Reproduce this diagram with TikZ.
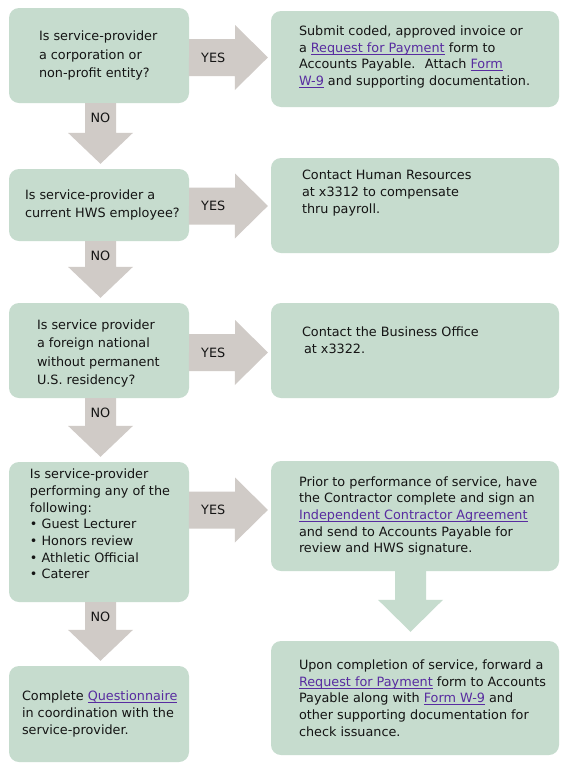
\documentclass[tikz,border=0pt]{standalone}
\usepackage{fontspec}
\setmainfont{DejaVu Sans}
\usepackage{tikz}
\usetikzlibrary{calc,positioning}
\definecolor{boxgreen}{RGB}{198,220,206}
\definecolor{arrowgrey}{RGB}{208,203,199}
\definecolor{linkpurple}{RGB}{88,44,160}
\definecolor{textblack}{RGB}{20,20,20}
\newcommand{\lnk}[1]{{\color{linkpurple}\setbox0\hbox{#1}\rlap{\rule[-2.2pt]{\wd0}{0.7pt}}\box0}}

\begin{document}
\begin{tikzpicture}[x=1pt,y=1pt,
  box/.style={fill=boxgreen,rounded corners=10pt,inner sep=0pt,draw=none},
  txt/.style={anchor=west,inner sep=0pt,align=left,text=textblack,font=\fontsize{12.8}{16.7}\selectfont},
  wide/.style={font=\fontsize{12.8}{18.3}\selectfont},
  greyarrow/.style={fill=arrowgrey},
  lbl/.style={inner sep=0pt,text=textblack,font=\fontsize{12.8}{15}\selectfont}]
\useasboundingbox (0,0) rectangle (574,-772);
\fill[white] (0,0) rectangle (574,-772);

% questions
\node (q1) at (99,-55.5) [box,minimum width=180,minimum height=95] {};
\node (q2) at (99,-205) [box,minimum width=180,minimum height=72] {};
\node (q3) at (99,-350.5) [box,minimum width=180,minimum height=95] {};
\node (q4) at (99,-532) [box,minimum width=180,minimum height=140] {};
\node (q5) at (99,-714) [box,minimum width=180,minimum height=96] {};

% answers
\node (a1) at (415,-59) [box,minimum width=288,minimum height=96] {};
\node (a2) at (415,-205.5) [box,minimum width=288,minimum height=95] {};
\node (a3) at (415,-350.5) [box,minimum width=288,minimum height=95] {};
\node (a4) at (415,-516) [box,minimum width=288,minimum height=110] {};
\node (a5) at (415,-698) [box,minimum width=288,minimum height=114] {};

\node (q1t) at ([xshift=30pt]q1.west) [txt,wide] {Is service-provider\\a corporation or\\non-profit entity?};
\node (q2t) at ([xshift=16pt]q2.west) [txt,wide] {Is service-provider a\\current HWS employee?};
\node (q3t) at ([xshift=28pt,yshift=-3pt]q3.west) [txt,wide] {Is service provider\\a foreign national\\without permanent\\U.S. residency?};
\node (q4t) at ([xshift=21pt,yshift=8pt]q4.west) [txt] {Is service-provider\\performing any of the\\following:\\• Guest Lecturer\\• Honors review\\• Athletic Official\\• Caterer};
\node (q5t) at ([xshift=13pt]q5.west) [txt] {Complete \lnk{Questionnaire}\\in coordination with the\\service-provider.};

\node (a1t) at ([xshift=28pt,yshift=2pt]a1.west) [txt] {Submit coded, approved invoice or\\a \lnk{Request for Payment} form to\\Accounts Payable.~ Attach \lnk{Form}\\\lnk{W-9} and supporting documentation.};
\node (a2t) at ([xshift=31pt,yshift=12.5pt]a2.west) [txt] {Contact Human Resources\\at x3312 to compensate\\thru payroll.};
\node (a3t) at ([xshift=31pt,yshift=10.5pt]a3.west) [txt] {Contact the Business Office\\\hspace*{2pt}at x3322.};
\node (a4t) at ([xshift=28pt]a4.west) [txt] {Prior to performance of service, have\\the Contractor complete and sign an\\\lnk{Independent Contractor Agreement}\\and send to Accounts Payable for\\review and HWS signature.};
\node (a5t) at ([xshift=28pt]a5.west) [txt] {Upon completion of service, forward a\\\lnk{Request for Payment} form to Accounts\\Payable along with \lnk{Form W-9} and\\other supporting documentation for\\check issuance.};

% yes arrows
\fill[greyarrow] ($(q1.east)+(0,16.5)$) -- ++(46,0) -- ++(0,14) -- ($(q1.east -| a1.west)+(-3,-2)$) -- ++(-33,-32.5) -- ++(0,14) -- ++(-46,0) -- cycle;
\fill[greyarrow] ($(q2.east)+(0,17.5)$) -- ++(46,0) -- ++(0,14) -- ($(q2.east -| a2.west)+(-3,-1)$) -- ++(-33,-32.5) -- ++(0,14) -- ++(-46,0) -- cycle;
\fill[greyarrow] ($(q3.east)+(0,16.5)$) -- ++(46,0) -- ++(0,14) -- ($(q3.east -| a3.west)+(-3,-2)$) -- ++(-33,-32.5) -- ++(0,14) -- ++(-46,0) -- cycle;
\fill[greyarrow] ($(q4.east)+(0,40.5)$) -- ++(46,0) -- ++(0,14) -- ($(q4.east -| a4.west)+(-3,22)$) -- ++(-33,-32.5) -- ++(0,14) -- ++(-46,0) -- cycle;

% no arrows
\fill[greyarrow] ($(q1.south)+(-14,0)$) -- ($(q2.north)+(-14,36)$) -- ++(-17,0) -- ($(q2.north)+(1.5,5)$) -- ++(32.5,31) -- ++(-17,0) -- ($(q1.south)+(17,0)$) -- cycle;
\fill[greyarrow] ($(q2.south)+(-14,0)$) -- ($(q3.north)+(-14,36)$) -- ++(-17,0) -- ($(q3.north)+(1.5,5)$) -- ++(32.5,31) -- ++(-17,0) -- ($(q2.south)+(17,0)$) -- cycle;
\fill[greyarrow] ($(q3.south)+(-14,0)$) -- ($(q4.north)+(-14,36)$) -- ++(-17,0) -- ($(q4.north)+(1.5,5)$) -- ++(32.5,31) -- ++(-17,0) -- ($(q3.south)+(17,0)$) -- cycle;
\fill[greyarrow] ($(q4.south)+(-14,0)$) -- ($(q5.north)+(-14,36)$) -- ++(-17,0) -- ($(q5.north)+(1.5,5)$) -- ++(32.5,31) -- ++(-17,0) -- ($(q4.south)+(17,0)$) -- cycle;

% contractor to payment
\fill[boxgreen] ($(a4.south)+(-20,0)$) -- ($(a5.north)+(-20,41)$) -- ++(-17,0) -- ($(a5.north)+(-4.5,9)$) -- ++(32.5,32) -- ++(-17,0) -- ($(a4.south)+(11,0)$) -- cycle;

\node (y1) at ($(q1.east)+(24,-2)$) [lbl] {YES};
\node (y2) at ($(q2.east)+(24,-1)$) [lbl] {YES};
\node (y3) at ($(q3.east)+(24,-2)$) [lbl] {YES};
\node (y4) at ($(q4.east)+(24,22)$) [lbl] {YES};
\node (n1) at ($(q1.south)+(1.5,-14.5)$) [lbl] {NO};
\node (n2) at ($(q2.south)+(1.5,-14.5)$) [lbl] {NO};
\node (n3) at ($(q3.south)+(1.5,-14.5)$) [lbl] {NO};
\node (n4) at ($(q4.south)+(1.5,-14.5)$) [lbl] {NO};
\end{tikzpicture}
\end{document}
